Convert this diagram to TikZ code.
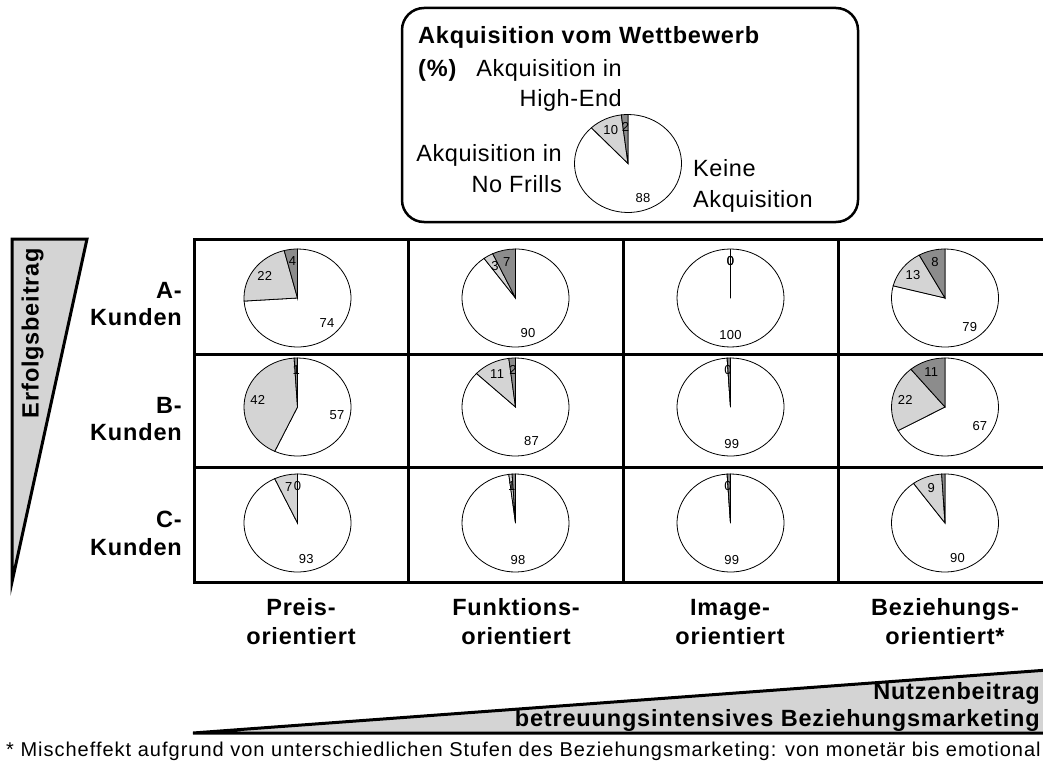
\documentclass[tikz,border=0pt]{standalone}
\usepackage{fontspec}
\setmainfont{Liberation Sans}[LetterSpace=2.5,BoldFeatures={LetterSpace=3.5}]
\newfontfamily\lblfont{Liberation Sans}[LetterSpace=2]
\newfontfamily\footfont{Liberation Sans}[LetterSpace=5]
\definecolor{darkg}{RGB}{140,140,140}
\definecolor{lightg}{RGB}{212,212,212}
\newcommand\mypie[8]{%
\begin{scope}[shift={(#2,#3)},x=1pt,y=1pt]
\pgfmathsetmacro\pa{90+3.6*#4}%
\pgfmathsetmacro\pb{\pa+3.6*#5}%
\pgfmathsetmacro\ma{(90+\pa)/2}%
\pgfmathsetmacro\mb{(\pa+\pb)/2}%
\pgfmathsetmacro\mc{(\pb+450)/2}%
\filldraw[pieline,fill=white] (0,0) -- (\pb:53.5 and 49) arc[start angle=\pb,end angle=450,x radius=53.5,y radius=49] -- cycle;
\filldraw[pieline,fill=lightg] (0,0) -- (\pa:53.5 and 49) arc[start angle=\pa,end angle=\pb,x radius=53.5,y radius=49] -- cycle;
\filldraw[pieline,fill=darkg] (0,0) -- (90:53.5 and 49) arc[start angle=90,end angle=\pa,x radius=53.5,y radius=49] -- cycle;
\node[lab] (#1-d) at (\ma:40.5 and 37) {#6};
\node[lab] (#1-l) at (\mb:40.5 and 37) {#7};
\node[lab] (#1-w) at (\mc:40.5 and 37) {#8};
\end{scope}}
\begin{document}
\begin{tikzpicture}[x=1pt,y=-1pt,
  lab/.style={inner sep=0pt,font=\lblfont\fontsize{13}{15}\selectfont},
  big/.style={inner sep=0pt,font=\fontsize{23.5}{26}\selectfont},
  bigb/.style={inner sep=0pt,font=\fontsize{23.5}{26}\selectfont\bfseries},
  foot/.style={inner sep=0pt,font=\footfont\fontsize{20}{22}\selectfont},
  gridline/.style={line width=3pt},
  pieline/.style={draw=black,line width=0.8pt}]
\useasboundingbox (0,0) rectangle (1043,762);
% legend box
\draw[line width=2.5pt,rounded corners=22pt] (402,8) rectangle (858,222);
\node[bigb,anchor=base west] (title) at (418,43.5) {Akquisition vom Wettbewerb};
\node[bigb,anchor=base west] (pct) at (418,77) {(\%)};
\node[big,anchor=base east] (hi1) at (622,77) {Akquisition in};
\node[big,anchor=base east] (hi2) at (622,107) {High-End};
\node[big,anchor=base east] (nf1) at (562,162) {Akquisition in};
\node[big,anchor=base east] (nf2) at (562,193) {No Frills};
\node[big,anchor=base west] (ke1) at (693,176) {Keine};
\node[big,anchor=base west] (ke2) at (693,207) {Akquisition};
\mypie{leg}{628}{163.5}{2}{10}{2}{10}{88}
% left triangle
\filldraw[fill=lightg,line width=3pt] (12,239) -- (87,239) -- (12,582) -- cycle;
\node[bigb,rotate=90] (erf) at (32.5,333) {Erfolgsbeitrag};
% grid
\draw[gridline] (194,239) rectangle (1052,582);
\draw[gridline] (408,239) -- (408,582) (623,239) -- (623,582) (838,239) -- (838,582);
\draw[gridline] (194,354) -- (1052,354) (194,467) -- (1052,467);
% row labels
\node[bigb,anchor=base east] (ra1) at (182,298) {A-};
\node[bigb,anchor=base east] (ra2) at (182,325) {Kunden};
\node[bigb,anchor=base east] (rb1) at (182,413) {B-};
\node[bigb,anchor=base east] (rb2) at (182,440) {Kunden};
\node[bigb,anchor=base east] (rc1) at (182,527) {C-};
\node[bigb,anchor=base east] (rc2) at (182,555) {Kunden};
% pies
\mypie{ap}{297.5}{298}{4}{22}{4}{22}{74}
\mypie{af}{515.5}{298}{7}{3}{7}{3}{90}
\mypie{ai}{730.5}{298}{0}{0}{0}{0}{100}
\mypie{ab}{945}{298}{8}{13}{8}{13}{79}
\mypie{bp}{297.5}{407}{1}{42}{1}{42}{57}
\mypie{bf}{515.5}{407}{2}{11}{2}{11}{87}
\mypie{bi}{730.5}{407}{1}{0}{}{0}{99}
\mypie{bb}{945}{407}{11}{22}{11}{22}{67}
\mypie{cp}{297.5}{523}{0}{7}{0}{7}{93}
\mypie{cf}{515.5}{523}{1}{1}{}{1}{98}
\mypie{ci}{730.5}{523}{1}{0}{}{0}{99}
\mypie{cb}{945}{523}{1}{9}{}{9}{90}
% column labels
\node[bigb,anchor=base] (cp1) at (301,615) {Preis-};
\node[bigb,anchor=base] (cp2) at (301,644) {orientiert};
\node[bigb,anchor=base] (cf1) at (516,615) {Funktions-};
\node[bigb,anchor=base] (cf2) at (516,644) {orientiert};
\node[bigb,anchor=base] (ci1) at (730,615) {Image-};
\node[bigb,anchor=base] (ci2) at (730,644) {orientiert};
\node[bigb,anchor=base] (cb1) at (945,615) {Beziehungs-};
\node[bigb,anchor=base] (cb2) at (945,644) {orientiert*};
% bottom triangle
\filldraw[fill=lightg,line width=3pt] (193,733) -- (1048,670) -- (1048,733) -- cycle;
\node[bigb,anchor=base east] (nutz) at (1040,699) {Nutzenbeitrag};
\node[bigb,anchor=base east] (betr) at (1040,726) {betreuungsintensives Beziehungsmarketing};
% footnote
\node[foot,anchor=base west] (fn) at (6,756) {* Mischeffekt aufgrund von unterschiedlichen Stufen des Beziehungsmarketing: von monetär bis emotional};
\end{tikzpicture}
\end{document}
